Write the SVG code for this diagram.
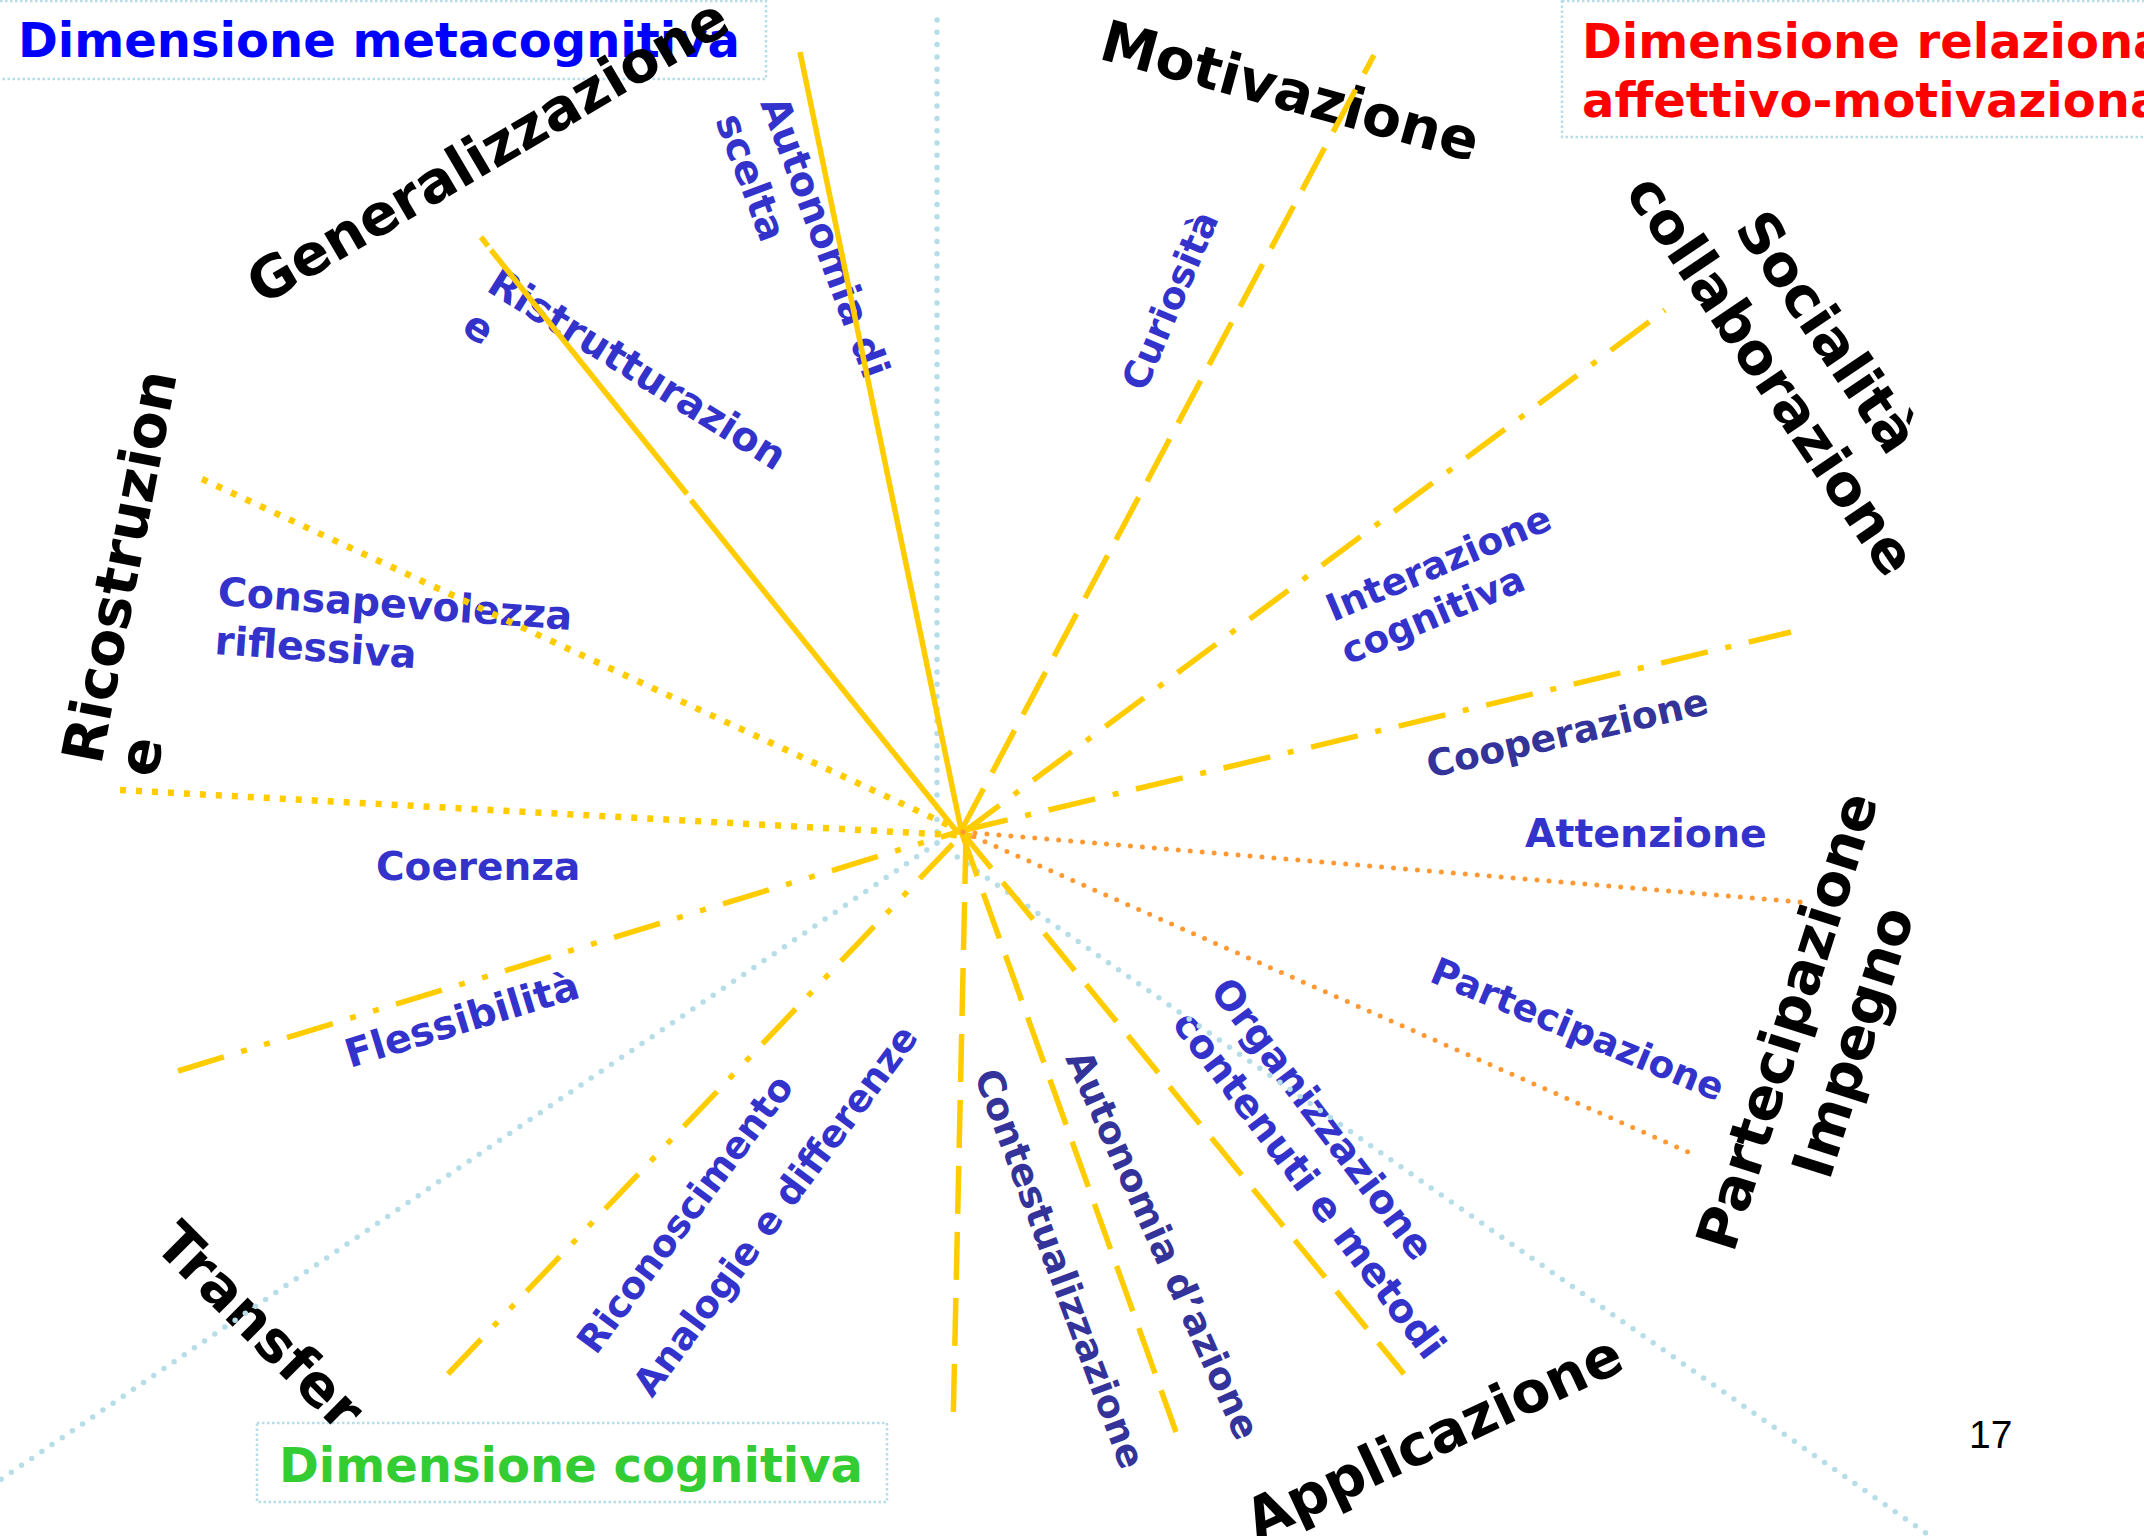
<svg xmlns="http://www.w3.org/2000/svg" width="2144" height="1536" viewBox="0 0 2144 1536">
<style>
.t{font-family:"DejaVu Sans","Liberation Sans",sans-serif;font-weight:bold}
.big{font-size:57px;fill:#000}
.blue{fill:#3333CC}
.navy{fill:#333399}
.sm{font-size:37.5px}
.hz{font-size:39.5px}
.dim{font-size:48px}
.mid{text-anchor:middle}
.box{fill:none;stroke:#B7DEE8;stroke-width:2.5;stroke-dasharray:2.5 2.5}
.y{fill:none;stroke:#FFCC00;stroke-width:5.5}
.sq{stroke-dasharray:6 10;stroke-width:6.5}
.ld{stroke-dasharray:48 18}
.dd{stroke-dasharray:48 18 6 18}
.ddd{stroke-dasharray:48 18 6 18 6 18}
.org{fill:none;stroke:#FF9933;stroke-width:5;stroke-dasharray:0 12;stroke-linecap:round}
.teal{fill:none;stroke:#B7DEE8;stroke-width:5.5;stroke-dasharray:0 12.3;stroke-linecap:round}
</style>
<rect width="2144" height="1536" fill="#fff"/>
<g id="dimensions">
<g id="dim-metacognitiva">
<rect class="box" x="-10" y="1" width="776" height="78"/>
<text class="t dim" x="18" y="57" fill="#0000FF">Dimensione metacognitiva</text>
</g>
<g id="dim-relazionale">
<rect class="box" x="1562" y="1" width="600" height="136"/>
<text class="t dim" fill="#FF0000"><tspan x="1582" y="58">Dimensione relazionale</tspan><tspan x="1582" y="117">affettivo-motivazionale</tspan></text>
</g>
<g id="dim-cognitiva">
<rect class="box" x="257" y="1423" width="630" height="79"/>
<text class="t dim" x="279" y="1482" fill="#33CC33">Dimensione cognitiva</text>
</g>
</g>
<g id="categories">
<g id="cat-generalizzazione"><text class="t big" font-size="59" transform="translate(262,306) rotate(-30.4)">Generalizzazione</text></g>
<g id="cat-motivazione"><text class="t big mid" font-size="58" transform="translate(1285,110) rotate(15.4)">Motivazione</text></g>
<g id="cat-socialita">
<text class="t big mid" transform="translate(1811,343) rotate(56)">Socialità</text>
<text class="t big mid" transform="translate(1755,386) rotate(56)">collaborazione</text>
</g>
<g id="cat-ricostruzione">
<text class="t big" font-size="50.5" transform="translate(101,766) rotate(-79)">Ricostruzion</text>
<text class="t big" font-size="50.5" transform="translate(156,779) rotate(-79)">e</text>
</g>
<g id="cat-transfer"><text class="t big mid" font-size="56" transform="translate(246,1340) rotate(45)">Transfer</text></g>
<g id="cat-partecipazione">
<text class="t big mid" transform="translate(1806,1027) rotate(-72.3)">Partecipazione</text>
<text class="t big mid" transform="translate(1872,1048) rotate(-72.3)">Impegno</text>
</g>
<g id="cat-applicazione"><text class="t big mid" transform="translate(1442,1455) rotate(-25)">Applicazione</text></g>
</g>
<g id="items">
<g id="it-autonomia-scelta">
<text class="t hz blue" transform="translate(760,103) rotate(69.4)">Autonomia di</text>
<text class="t hz blue" transform="translate(715,120) rotate(69.4)">scelta</text>
</g>
<g id="it-ristrutturazione">
<text class="t blue" font-size="40" transform="translate(485,290) rotate(32)">Ristrutturazion</text>
<text class="t blue" font-size="40" transform="translate(460,332) rotate(32)">e</text>
</g>
<g id="it-consapevolezza">
<text class="t hz blue" transform="translate(217,605) rotate(4)">Consapevolezza</text>
<text class="t hz blue" transform="translate(214,654) rotate(4)">riflessiva</text>
</g>
<g id="it-coerenza"><text class="t blue" font-size="39" x="376" y="880">Coerenza</text></g>
<g id="it-flessibilita"><text class="t blue" font-size="39.5" transform="translate(350,1068) rotate(-17)">Flessibilità</text></g>
<g id="it-riconoscimento">
<text class="t sm blue" transform="translate(596,1356) rotate(-53.5)">Riconoscimento</text>
<text class="t sm blue" transform="translate(652,1399) rotate(-53.5)">Analogie e differenze</text>
</g>
<g id="it-contestualizzazione"><text class="t sm navy" transform="translate(974,1075) rotate(69.6)">Contestualizzazione</text></g>
<g id="it-autonomia-azione"><text class="t sm navy" transform="translate(1065,1058) rotate(65.9)">Autonomia d’azione</text></g>
<g id="it-organizzazione">
<text class="t hz blue" transform="translate(1209,991) rotate(53)">Organizzazione</text>
<text class="t hz blue" transform="translate(1171,1024) rotate(53)">contenuti e metodi</text>
</g>
<g id="it-curiosita"><text class="t sm blue" transform="translate(1145,393) rotate(-67)">Curiosità</text></g>
<g id="it-interazione">
<text class="t sm blue" transform="translate(1333,622) rotate(-23)">Interazione</text>
<text class="t sm blue" transform="translate(1348,665) rotate(-23)">cognitiva</text>
</g>
<g id="it-cooperazione"><text class="t sm navy" transform="translate(1430,778) rotate(-13)">Cooperazione</text></g>
<g id="it-attenzione"><text class="t hz blue" x="1525" y="847">Attenzione</text></g>
<g id="it-partecipazione"><text class="t sm blue" transform="translate(1428,981) rotate(22.6)">Partecipazione</text></g>
</g>
<g id="connectors">
<line class="teal" x1="937" y1="20" x2="937" y2="843"/>
<line class="teal" x1="937" y1="843" x2="0" y2="1480"/>
<line class="teal" x1="937" y1="843" x2="1930" y2="1536"/>
<line class="y" x1="800" y1="52" x2="962" y2="834"/>
<line class="y" x1="481" y1="237" x2="488" y2="246"/>
<line class="y" x1="491" y1="250" x2="687" y2="494"/>
<line class="y" x1="691" y1="500" x2="958" y2="833"/>
<line class="y sq" x1="202" y1="479" x2="961" y2="831"/>
<line class="y sq" x1="120" y1="790" x2="972" y2="836"/>
<line class="y ddd" x1="178" y1="1071" x2="961" y2="831"/>
<line class="y ddd" x1="448" y1="1374" x2="966" y2="830"/>
<line class="y ld" x1="966" y1="836" x2="953" y2="1429"/>
<line class="y ld" x1="961" y1="831" x2="1176" y2="1432"/>
<line class="y ld" x1="961" y1="831" x2="1404" y2="1374"/>
<line class="y ld" x1="961" y1="831" x2="1374" y2="55"/>
<line class="y dd" x1="961" y1="834" x2="1665" y2="310"/>
<line class="y dd" x1="961" y1="831" x2="1791" y2="632"/>
<line class="org" x1="963" y1="832" x2="1801" y2="902"/>
<line class="org" x1="963" y1="832" x2="1695" y2="1155"/>
</g>
<text x="1969" y="1448" font-family="'Liberation Sans',Arial,sans-serif" font-size="39" fill="#000">17</text>
</svg>
